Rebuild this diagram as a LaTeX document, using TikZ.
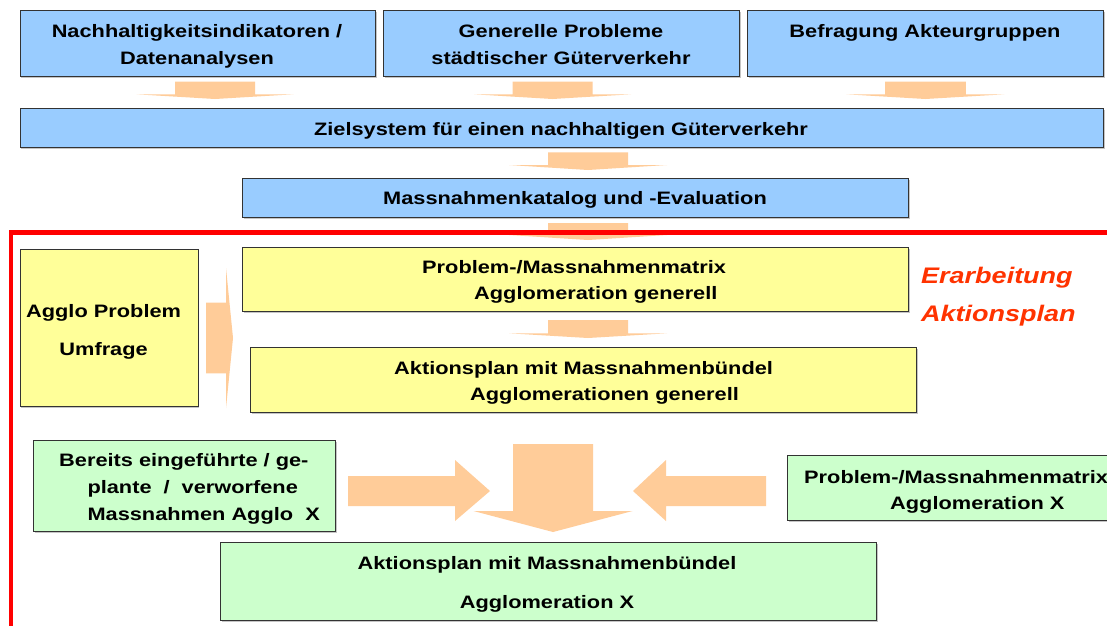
\documentclass[tikz,border=0pt]{standalone}
\usepackage{fontspec}
\usetikzlibrary{shadows}
\newfontfamily\arialw{Liberation Sans}[FakeStretch=1.21]
\newfontfamily\arialr{Liberation Sans}[FakeStretch=1.2]
\definecolor{boxblue}{HTML}{99CCFF}
\definecolor{boxyellow}{HTML}{FFFF99}
\definecolor{boxgreen}{HTML}{CCFFCC}
\definecolor{arrowfill}{HTML}{FFCC99}
\definecolor{framered}{HTML}{FF0000}
\definecolor{titlered}{HTML}{FF3300}
\newcommand\dnarrow[6]{\fill[arrowfill] (#1-#5,#2) -- (#1+#5,#2) -- (#1+#5,#3) -- (#1+#6,#3) -- (#1,#4) -- (#1-#6,#3) -- (#1-#5,#3) -- cycle;}
\tikzset{
  box/.style={draw=black!80, line width=1.1pt, inner sep=0pt, anchor=north west,
    drop shadow={shadow xshift=1.3pt, shadow yshift=-1.3pt, fill=black!45}},
  blue/.style={box, fill=boxblue},
  yel/.style={box, fill=boxyellow},
  grn/.style={box, fill=boxgreen},
  txt/.style={inner sep=0pt, anchor=north, align=center,
    font=\arialw\bfseries\fontsize{18}{26.6}\selectfont},
  txtwide/.style={txt, font=\arialw\bfseries\fontsize{18}{38.5}\selectfont},
}
\begin{document}
\begin{tikzpicture}[x=1pt,y=-1pt]
\useasboundingbox (0,0) rectangle (1107,625);
\clip (0,0) rectangle (1107,625);
\fill[white] (0,0) rectangle (1107,625);

% top row
\node[blue, minimum width=355.4pt, minimum height=65.7pt] (b1) at (19.6,10) {};
\node[blue, minimum width=356pt, minimum height=65.7pt] (b2) at (383,10) {};
\node[blue, minimum width=356pt, minimum height=65.7pt] (b3) at (747,10) {};
\node[txt] (t1) at (197,24.6) {Nachhaltigkeitsindikatoren /\\Datenanalysen};
\node[txt] (t2) at (561,24.6) {Generelle Probleme\\städtischer Güterverkehr};
\node[txt] (t3) at (925,23.9) {Befragung Akteurgruppen};

\dnarrow{215}{81.7}{94.3}{99}{40}{78.5}
\dnarrow{552.5}{81.7}{94.3}{99}{40}{78.5}
\dnarrow{925.4}{81.7}{94.3}{99}{40.4}{79}

\node[blue, minimum width=1083.4pt, minimum height=39pt] (ziel) at (19.6,108) {};
\node[txt] (tziel) at (561,121.9) {Zielsystem für einen nachhaltigen Güterverkehr};

\dnarrow{588}{152.3}{165}{170}{40}{79}

\node[blue, minimum width=666pt, minimum height=39.3pt] (kat) at (242,178) {};
\node[txt] (tkat) at (575,190.9) {Massnahmenkatalog und -Evaluation};

\dnarrow{588}{223}{235}{240}{40}{79}

% red frame
\draw[framered, line width=4.5pt] (1120,232.5) -- (10.8,232.5) -- (10.8,640);

% yellow part
\node[yel, minimum width=178pt, minimum height=156.4pt] (agglo) at (19.5,249.3) {};
\node[txtwide] (tagglo) at (103.6,303.9) {Agglo Problem\\Umfrage};

\fill[arrowfill] (206,302.7) -- (226,302.7) -- (226,268) -- (233,338) -- (226,408) -- (226,373.3) -- (206,373.3) -- cycle;

\node[yel, minimum width=666pt, minimum height=64.3pt] (pm) at (241.8,246.7) {};
\node[txt, anchor=north west, align=left] (tpm) at (422,259.9) {Problem-/Massnahmenmatrix\\\hspace*{52pt}Agglomeration generell};

\dnarrow{588}{320}{333.3}{338}{40}{79}

\node[yel, minimum width=666pt, minimum height=65pt] (apg) at (250,346.7) {};
\node[txt, anchor=north west, align=left] (tapg) at (394,360.9) {Aktionsplan mit Massnahmenbündel\\\hspace*{76pt}Agglomerationen generell};

\node[inner sep=0pt, anchor=north west, align=left, text=titlered,
  font=\arialr\bfseries\itshape\fontsize{22.5}{38.7}\selectfont] (titel) at (921,266.6) {Erarbeitung\\Aktionsplan};

% green part
\node[grn, minimum width=302pt, minimum height=91pt] (g1) at (33,440) {};
\node[txt, anchor=north west, align=left] (tg1) at (59,453.6) {Bereits eingeführte / ge-\\\hspace*{28.3pt}plante\hspace{12pt}/\hspace{12pt}verworfene\\\hspace*{28.3pt}Massnahmen Agglo\ \ X};

\node[grn, minimum width=340pt, minimum height=65pt] (g2) at (787,455) {};
\node[txt, anchor=north west, align=left] (tg2) at (804,469.9) {Problem-/Massnahmenmatrix\\\hspace*{86pt}Agglomeration X};

\node[grn, minimum width=656pt, minimum height=78pt] (g3) at (220,542) {};
\node[txt, font=\arialw\bfseries\fontsize{18}{39}\selectfont] (tg3) at (547,555.9) {Aktionsplan mit Massnahmenbündel\\Agglomeration X};

% big arrows
\dnarrow{553}{444}{511}{532}{40}{79.5}
\fill[arrowfill] (348,476) -- (455,476) -- (455,460) -- (490,491) -- (455,521) -- (455,506) -- (348,506) -- cycle;
\fill[arrowfill] (766,476) -- (666,476) -- (666,460) -- (633,491) -- (666,521) -- (666,506) -- (766,506) -- cycle;
\end{tikzpicture}
\end{document}
